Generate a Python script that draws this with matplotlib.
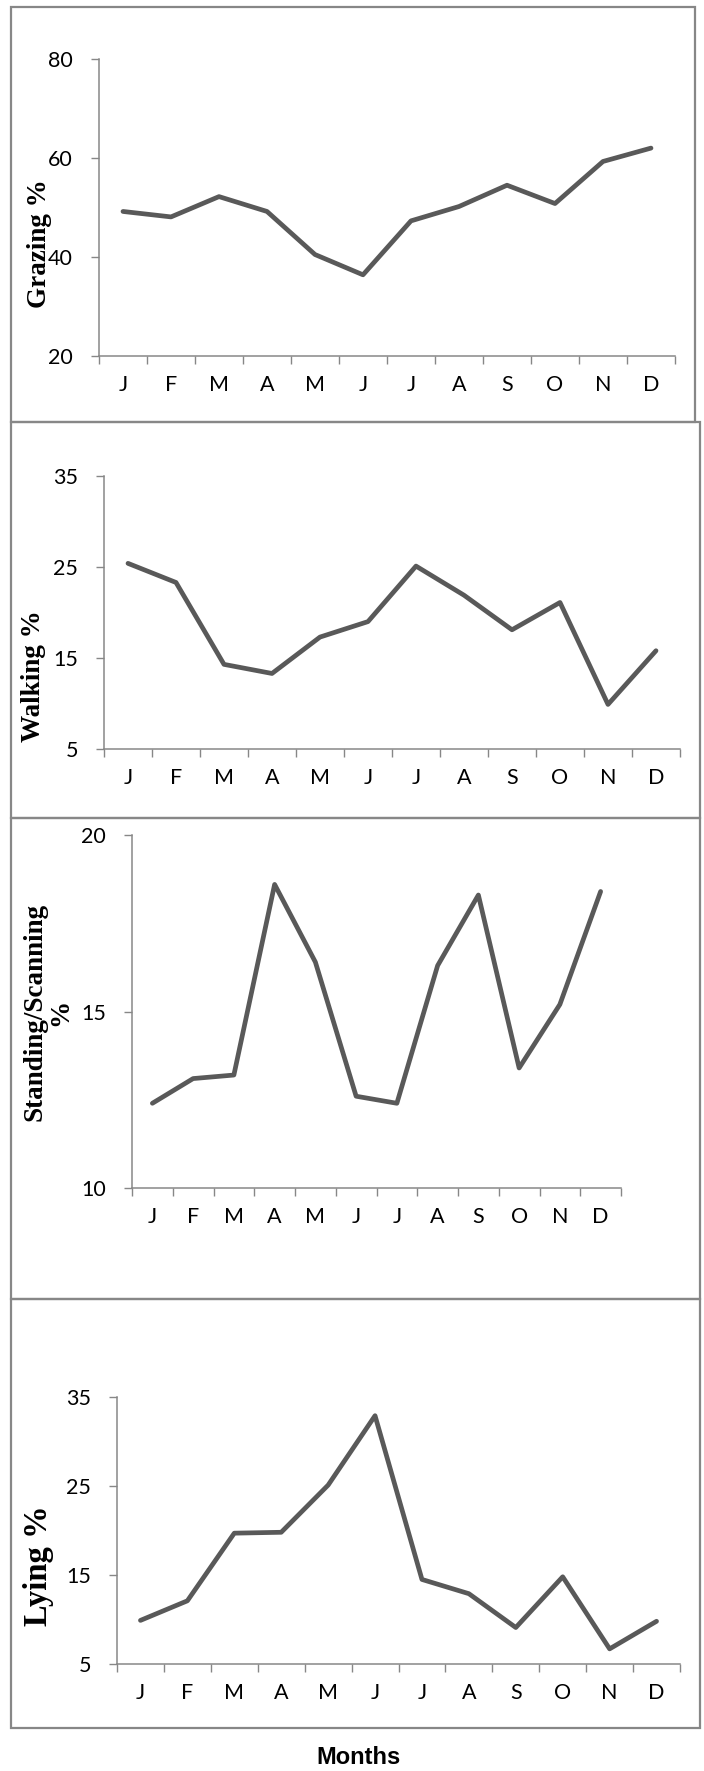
import numpy as np
import matplotlib
matplotlib.use('Agg')
from matplotlib import pyplot as plt
from matplotlib.patches import Rectangle

plt.rcParams['font.family'] = ['Lato', 'DejaVu Sans']

months = ['J', 'F', 'M', 'A', 'M', 'J', 'J', 'A', 'S', 'O', 'N', 'D']
grazing = [49.2, 48.1, 52.2, 49.2, 40.5, 36.4, 47.3, 50.2, 54.5, 50.8, 59.3, 62.0]
walking = [25.4, 23.3, 14.3, 13.3, 17.3, 19.0, 25.1, 21.9, 18.1, 21.1, 9.9, 15.8]
standing = [12.4, 13.1, 13.2, 18.6, 16.4, 12.6, 12.4, 16.3, 18.3, 13.4, 15.2, 18.4]
lying = [9.9, 12.1, 19.7, 19.8, 25.1, 32.9, 14.5, 12.9, 9.1, 14.8, 6.7, 9.8]

grazing_ticks = [20, 40, 60, 80]
walking_ticks = [5, 15, 25, 35]
standing_ticks = [10, 15, 20]
lying_ticks = [5, 15, 25, 35]

W, H = 704, 1771
fig = plt.figure(figsize=(W / 100, H / 100), dpi=100)
gray = '#878787'
line_col = '#595959'

# panel frames (pixels: x0, x1, ytop, ybottom)
boxes = [(11, 695, 7, 422), (11, 700, 422, 818), (11, 700, 818, 1299), (11, 700, 1299, 1728)]
for x0, x1, y0, y1 in boxes:
    fig.add_artist(Rectangle((x0 / W, 1 - y1 / H), (x1 - x0) / W, (y1 - y0) / H,
                             transform=fig.transFigure, fill=False,
                             edgecolor=gray, lw=1.6))


def panel(rect, values, ticks, label, lx, ly, lsize):
    x0, x1, y0, y1 = rect
    ax = fig.add_axes([x0 / W, 1 - y1 / H, (x1 - x0) / W, (y1 - y0) / H])
    ax.plot(range(12), values, color=line_col, lw=3.4,
            solid_joinstyle='round', solid_capstyle='round', clip_on=False)
    ax.set_xlim(-0.5, 11.5)
    ax.set_ylim(ticks[0], ticks[-1])
    ax.set_yticks(ticks)
    ax.set_xticks(range(12))
    ax.set_xticklabels(months)
    ax.set_xticks(np.arange(-0.5, 12, 1), minor=True)
    ax.tick_params(axis='x', which='major', length=0, pad=13.5, labelsize=15.5)
    ax.tick_params(axis='x', which='minor', length=5.5, width=1, color=gray, direction='out')
    ax.tick_params(axis='y', length=5.8, width=1, color=gray, pad=13, labelsize=15.5)
    for s in ['top', 'right']:
        ax.spines[s].set_visible(False)
    for s in ['left', 'bottom']:
        ax.spines[s].set_color(gray)
        ax.spines[s].set_linewidth(1.1)
    ax.patch.set_alpha(0)
    fig.text(lx / W, 1 - ly / H, label, rotation=90, ha='center', va='center',
             multialignment='center', family='Liberation Serif', fontweight='bold',
             fontsize=lsize, linespacing=1.05)
    return ax


panel((99, 675, 59, 356), grazing, grazing_ticks, 'Grazing %', 39, 244, 19.5)
panel((104, 680, 476, 749), walking, walking_ticks, 'Walking %', 33, 676, 19.5)
panel((132, 621, 835, 1188), standing, standing_ticks, 'Standing/Scanning\n%', 48, 1012, 19.5)
panel((117, 680, 1397, 1664), lying, lying_ticks, 'Lying %', 38, 1566, 23.5)

fig.text(358 / W, 1 - 1757 / H, 'Months', ha='center', va='center',
         family='Liberation Sans', fontweight='bold', fontsize=17)

fig.savefig('out.png', dpi=100)
